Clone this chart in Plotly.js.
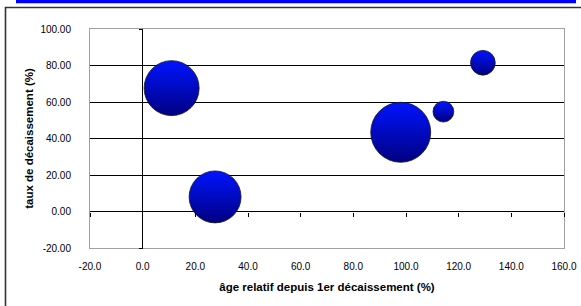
<!DOCTYPE html>
<html>
<head>
<meta charset="utf-8">
<script src="https://cdn.plot.ly/plotly-3.0.1.min.js"></script>
<style>html,body{margin:0;padding:0;background:#fff;}#chart{width:581px;height:306px;}</style>
</head>
<body>
<div id="chart"></div>
<script>
// Data
var ageRelatif = [11.0, 27.5, 98.0, 114.2, 129.2];      // âge relatif depuis 1er décaissement (%)
var tauxDecaissement = [67.6, 8.0, 43.4, 54.7, 81.5];   // taux de décaissement (%)
var bubbleSize = [84, 75, 100, 12, 17];                 // relative bubble size (area)

var xTickVals = [-20, 0, 20, 40, 60, 80, 100, 120, 140, 160];
var xTickText = ['-20.0', '0.0', '20.0', '40.0', '60.0', '80.0', '100.0', '120.0', '140.0', '160.0'];
var yTickVals = [-20, 0, 20, 40, 60, 80, 100];
var yTickText = ['-20.00', '0.00', '20.00', '40.00', '60.00', '80.00', '100.00'];

var xTitle = 'âge relatif depuis 1er décaissement (%)';
var yTitle = 'taux de décaissement (%)';

var xRange = [-20, 160], yRange = [-20, 100];

var W = 581, H = 306, ML = 90, MR = 17, MT = 29, MB = 58;
var PW = W - ML - MR, PH = H - MT - MB;
function px(x){ return (x - ML) / PW; }
function py(y){ return (H - MB - y) / PH; }
var zeroFracX = (0 - xRange[0]) / (xRange[1] - xRange[0]);
var zeroFracY = (0 - yRange[0]) / (yRange[1] - yRange[0]);

var trace = {
  type: 'scatter',
  mode: 'markers',
  x: ageRelatif,
  y: tauxDecaissement,
  marker: {
    size: bubbleSize,
    sizemode: 'area',
    sizeref: 1/18,
    color: '#0014ff',
    gradient: {type: 'vertical', color: '#000080'},
    line: {color: '#1a1a1a', width: 0.8},
    opacity: 1
  },
  hoverinfo: 'x+y'
};
var tickTrace = {type: 'scatter', mode: 'markers', x: [], y: [], xaxis: 'x2', yaxis: 'y2', hoverinfo: 'skip'};

var axisFont = {family: 'Liberation Sans, Arial, sans-serif', size: 10, color: '#000'};
var titleFont = {family: 'Liberation Sans, Arial, sans-serif', size: 11.5, color: '#000', weight: 'bold'};

var layout = {
  width: W, height: H,
  margin: {l: ML, r: MR, t: MT, b: MB, pad: 0},
  paper_bgcolor: '#fff', plot_bgcolor: '#fff',
  showlegend: false,
  xaxis: {
    range: xRange, tickmode: 'array', tickvals: xTickVals, ticktext: xTickText,
    showgrid: false,
    zeroline: true, zerolinecolor: '#000', zerolinewidth: 1,
    showline: true, linecolor: '#a0a0a0', linewidth: 1, mirror: true,
    ticks: '', ticklabelstandoff: 9,
    tickfont: axisFont,
    title: {text: xTitle, font: titleFont, standoff: 11}
  },
  yaxis: {
    range: yRange, tickmode: 'array', tickvals: yTickVals, ticktext: yTickText,
    showgrid: true, gridcolor: '#000', gridwidth: 1,
    zeroline: true, zerolinecolor: '#000', zerolinewidth: 1,
    showline: true, linecolor: '#a0a0a0', linewidth: 1, mirror: true,
    ticks: '', ticklabelstandoff: 16,
    tickfont: axisFont,
    title: {text: yTitle, font: titleFont, standoff: 4}
  },
  xaxis2: {
    overlaying: 'x', anchor: 'free', position: zeroFracY, side: 'bottom',
    range: xRange, tickmode: 'array', tickvals: xTickVals,
    ticks: 'outside', ticklen: 4, tickwidth: 1, tickcolor: '#000',
    showticklabels: false, showline: false, showgrid: false, zeroline: false
  },
  yaxis2: {
    overlaying: 'y', anchor: 'free', position: zeroFracX, side: 'left',
    range: yRange, tickmode: 'array', tickvals: yTickVals,
    ticks: 'outside', ticklen: 4, tickwidth: 1, tickcolor: '#000',
    showticklabels: false, showline: false, showgrid: false, zeroline: false
  },
  shapes: [
    {type: 'rect', xref: 'paper', yref: 'paper',
     x0: px(16), x1: px(576), y0: py(3.3), y1: py(-3),
     fillcolor: '#0000ff', line: {width: 0}, layer: 'above'},
    {type: 'rect', xref: 'paper', yref: 'paper',
     x0: px(5.5), x1: px(590), y0: py(7.5), y1: py(320),
     fillcolor: 'rgba(0,0,0,0)', line: {color: '#333', width: 1.6}, layer: 'above'}
  ]
};

Plotly.newPlot('chart', [tickTrace, trace], layout, {displayModeBar: false, staticPlot: true});
</script>
</body>
</html>
